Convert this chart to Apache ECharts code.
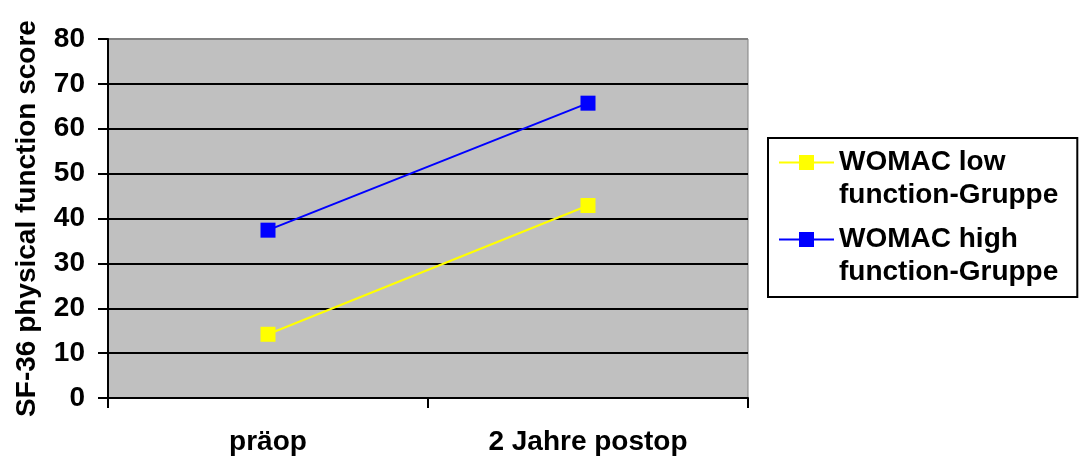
<!DOCTYPE html>
<html>
<head>
<meta charset="utf-8">
<script src="https://cdn.jsdelivr.net/npm/echarts@6/dist/echarts.min.js"></script>
<style>
  html, body { margin: 0; padding: 0; background: #ffffff; }
  #chart { width: 1082px; height: 459px; }
</style>
</head>
<body>
<div id="chart"></div>
<script>
// SF-36 physical function score before and two years after surgery
const categories = ['präop', '2 Jahre postop'];
const seriesNames = ['WOMAC low function-Gruppe', 'WOMAC high function-Gruppe'];
const legendLabels = ['WOMAC low\nfunction-Gruppe', 'WOMAC high\nfunction-Gruppe'];
const lowFunction = [14.2, 42.9];
const highFunction = [37.4, 65.7];
const yTicks = [0, 10, 20, 30, 40, 50, 60, 70, 80];
const yTitle = 'SF-36 physical function score';

const FONT = "'Liberation Sans', Arial, Helvetica, sans-serif";
const FS = 28;

// Legend glyph: a short line with a square marker on the first text line.
// Two hair-thin corner points fix the icon box at 55 x 66.
const legendIcon = 'path://M0 0L0.01 0L0 0.01Z M55 66L54.99 66L55 65.99Z ' +
  'M0 15.5L55 15.5L55 17.5L0 17.5Z M20 9L35 9L35 24L20 24Z';

// split line colours: black inside the plot, grey on the top frame edge
const splitColors = yTicks.map((v, i) => i === yTicks.length - 1 ? '#808080' : '#000000');

const chart = echarts.init(document.getElementById('chart'), null, { renderer: 'canvas' });

chart.setOption({
  animation: false,
  backgroundColor: '#ffffff',
  textStyle: { fontFamily: FONT },
  grid: {
    left: 108, right: 334, top: 39, bottom: 61,
    show: true,
    backgroundColor: '#C0C0C0',
    borderColor: '#808080',
    borderWidth: 1
  },
  legend: {
    orient: 'vertical',
    left: 768,
    top: 138,
    padding: [8, 19, 8, 11],
    itemGap: 11,
    itemWidth: 55,
    itemHeight: 66,
    icon: legendIcon,
    itemStyle: { borderWidth: 0 },
    backgroundColor: '#ffffff',
    borderColor: '#000000',
    borderWidth: 2,
    data: seriesNames,
    formatter: name => legendLabels[seriesNames.indexOf(name)],
    textStyle: {
      fontFamily: FONT, fontSize: FS, fontWeight: 'bold', color: '#000000', lineHeight: 33
    }
  },
  xAxis: {
    type: 'category',
    data: categories,
    boundaryGap: true,
    axisLine: { lineStyle: { color: '#000000', width: 2 } },
    axisTick: { show: true, length: 10, inside: false, lineStyle: { color: '#000000', width: 2 } },
    axisLabel: {
      margin: 30, color: '#000000', fontFamily: FONT, fontSize: FS, fontWeight: 'bold'
    },
    splitLine: { show: false }
  },
  yAxis: {
    type: 'value',
    min: 0, max: 80, interval: 10,
    name: yTitle,
    nameLocation: 'middle',
    nameGap: 67,
    nameRotate: 90,
    nameTextStyle: { fontFamily: FONT, fontSize: FS, fontWeight: 'bold', color: '#000000' },
    axisLine: { show: true, lineStyle: { color: '#000000', width: 2 } },
    axisTick: { show: true, length: 10, inside: false, lineStyle: { color: '#000000', width: 2 } },
    axisLabel: {
      margin: 23, color: '#000000', fontFamily: FONT, fontSize: FS, fontWeight: 'bold'
    },
    splitLine: { show: true, lineStyle: { color: splitColors, width: 2 } }
  },
  series: [
    {
      name: seriesNames[0],
      type: 'line',
      data: lowFunction,
      color: '#FFFF00',
      symbol: 'rect',
      symbolSize: 15,
      lineStyle: { color: '#FFFF00', width: 2 },
      itemStyle: { color: '#FFFF00' }
    },
    {
      name: seriesNames[1],
      type: 'line',
      data: highFunction,
      color: '#0000FF',
      symbol: 'rect',
      symbolSize: 15,
      lineStyle: { color: '#0000FF', width: 2 },
      itemStyle: { color: '#0000FF' }
    }
  ]
});
</script>
</body>
</html>
